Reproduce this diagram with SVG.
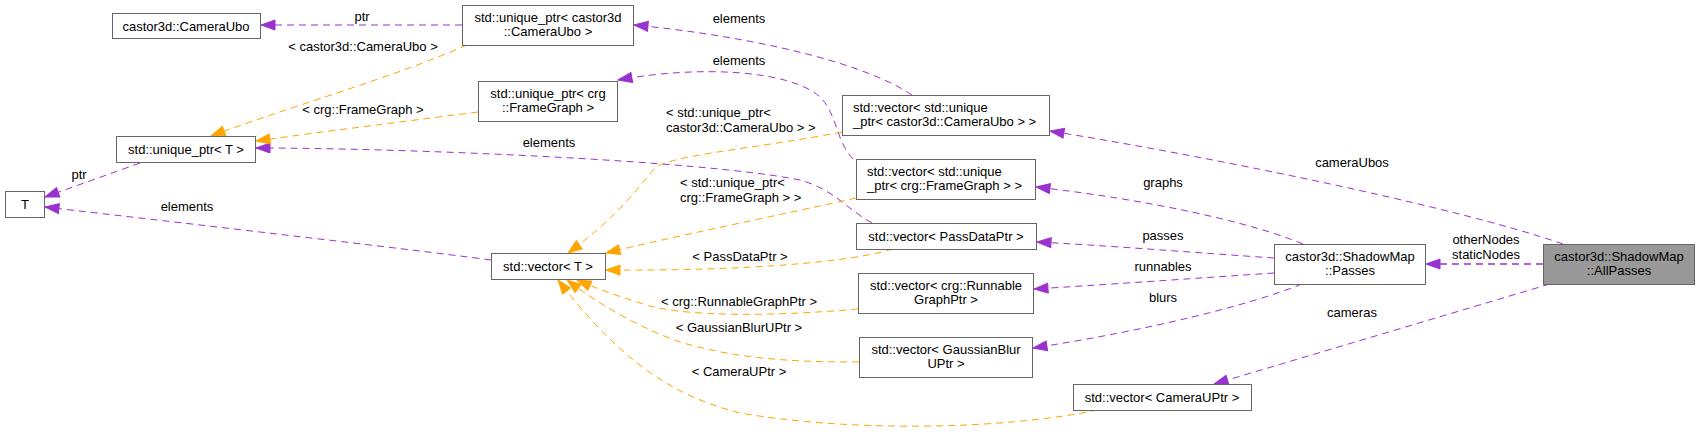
<svg xmlns="http://www.w3.org/2000/svg" width="1700" height="433" viewBox="0 0 1700 433">
<style>
text{font-family:"Liberation Sans",Arial,sans-serif;font-size:13px;fill:#000}
.c{text-anchor:middle}
.n rect{fill:#fff;stroke:#666;stroke-width:1}
.n.g rect{fill:#999}
.e path{fill:none;stroke-width:1;stroke-dasharray:7,5}
.p{stroke:#9a32cd;marker-end:url(#ap)}
.o{stroke:#ffa500;marker-end:url(#ao)}
</style>
<defs>
<marker id="ap" markerUnits="userSpaceOnUse" markerWidth="16" markerHeight="12" viewBox="0 0 16 12" refX="15" refY="6" orient="auto"><path d="M1,1 L15,6 L1,11 Z" fill="#9a32cd" stroke="#9a32cd" stroke-dasharray="none"/></marker>
<marker id="ao" markerUnits="userSpaceOnUse" markerWidth="16" markerHeight="12" viewBox="0 0 16 12" refX="15" refY="6" orient="auto"><path d="M1,1 L15,6 L1,11 Z" fill="#ffa500" stroke="#ffa500" stroke-dasharray="none"/></marker>
</defs>
<rect width="1700" height="433" fill="#fff"/>
<g id="edges" class="e">
<path class="p" d="M1543,264 L1426,264" style="stroke-width:1.5"/>
<path class="p" d="M1563,244 C1450,205 1200,155 1050,131"/>
<path class="p" d="M1550,284 L1214,384"/>
<path class="p" d="M1303,244 C1250,222 1150,200 1036,187"/>
<path class="p" d="M1274,258 C1200,253 1100,245 1037,242"/>
<path class="p" d="M1274,273 C1200,278 1100,285 1034,289"/>
<path class="p" d="M1302,284 C1250,305 1150,330 1033,348"/>
<path class="p" d="M912,95 C860,60 740,35 634,25"/>
<path class="p" d="M853,159 C835,140 838,115 820,97 C790,70 700,65 618,80"/>
<path class="p" d="M872,223 C845,208 835,190 800,180 C700,160 400,148 256,148"/>
<path class="p" d="M491,260 C400,248 200,225 45,207"/>
<path class="p" d="M140,163 L45,197"/>
<path class="p" d="M462,25 L261,25"/>
<path class="o" d="M467,45 C400,75 280,110 211,136"/>
<path class="o" d="M478,112 C400,122 320,132 256,141"/>
<path class="o" d="M842,132 C760,148 670,155 655,168 C640,185 620,215 568,253"/>
<path class="o" d="M856,198 C780,215 680,235 606,253"/>
<path class="o" d="M893,249 C850,262 750,271 606,270"/>
<path class="o" d="M858,309 C780,316 680,318 640,303 C615,295 595,288 577,280"/>
<path class="o" d="M859,362 C800,362 740,360 680,342 C640,328 600,305 567,280"/>
<path class="o" d="M1098,410 C1000,430 850,432 740,413 C670,395 620,360 558,280"/>
<text class="c" x="362" y="21">ptr</text>
<text class="c" x="363" y="51">&lt; castor3d::CameraUbo &gt;</text>
<text class="c" x="363" y="114">&lt; crg::FrameGraph &gt;</text>
<text class="c" x="79" y="179">ptr</text>
<text class="c" x="187" y="211">elements</text>
<text class="c" x="739" y="23">elements</text>
<text class="c" x="739" y="65">elements</text>
<text class="c" x="549" y="147">elements</text>
<text x="666" y="117">&lt; std::unique_ptr&lt;</text>
<text x="666" y="132">castor3d::CameraUbo &gt; &gt;</text>
<text x="680" y="187">&lt; std::unique_ptr&lt;</text>
<text x="680" y="202">crg::FrameGraph &gt; &gt;</text>
<text class="c" x="740" y="261">&lt; PassDataPtr &gt;</text>
<text class="c" x="739" y="306">&lt; crg::RunnableGraphPtr &gt;</text>
<text class="c" x="739" y="332">&lt; GaussianBlurUPtr &gt;</text>
<text class="c" x="739" y="376">&lt; CameraUPtr &gt;</text>
<text class="c" x="1352" y="167">cameraUbos</text>
<text class="c" x="1486" y="244">otherNodes</text>
<text class="c" x="1486" y="259">staticNodes</text>
<text class="c" x="1352" y="317">cameras</text>
<text class="c" x="1163" y="187">graphs</text>
<text class="c" x="1163" y="240">passes</text>
<text class="c" x="1163" y="271">runnables</text>
<text class="c" x="1163" y="302">blurs</text>
</g>
<g id="n_allpasses" class="n g"><rect x="1543.5" y="244.5" width="151" height="40"/><text class="c" x="1619" y="260.5">castor3d::ShadowMap</text><text class="c" x="1619" y="275">::AllPasses</text></g>
<g id="n_passes" class="n"><rect x="1274.5" y="244.5" width="151" height="40"/><text class="c" x="1350" y="260.5">castor3d::ShadowMap</text><text class="c" x="1350" y="275">::Passes</text></g>
<g id="n_vec_cameraubo" class="n"><rect x="842.5" y="95.5" width="207" height="40"/><text x="853" y="111.5">std::vector&lt; std::unique</text><text x="853" y="126">_ptr&lt; castor3d::CameraUbo &gt; &gt;</text></g>
<g id="n_vec_framegraph" class="n"><rect x="856.5" y="159.5" width="179" height="40"/><text x="867" y="175.5">std::vector&lt; std::unique</text><text x="867" y="190">_ptr&lt; crg::FrameGraph &gt; &gt;</text></g>
<g id="n_vec_passdata" class="n"><rect x="856.5" y="223.5" width="180" height="26"/><text class="c" x="946" y="240.5">std::vector&lt; PassDataPtr &gt;</text></g>
<g id="n_vec_runnable" class="n"><rect x="858.5" y="273.5" width="175" height="40"/><text class="c" x="946" y="289.5">std::vector&lt; crg::Runnable</text><text class="c" x="946" y="304">GraphPtr &gt;</text></g>
<g id="n_vec_blur" class="n"><rect x="859.5" y="337.5" width="173" height="40"/><text class="c" x="946" y="353.5">std::vector&lt; GaussianBlur</text><text class="c" x="946" y="368">UPtr &gt;</text></g>
<g id="n_vec_camera" class="n"><rect x="1073.5" y="384.5" width="178" height="26"/><text class="c" x="1162" y="401.5">std::vector&lt; CameraUPtr &gt;</text></g>
<g id="n_vec_t" class="n"><rect x="491.5" y="253.5" width="114" height="26"/><text class="c" x="548" y="270.5">std::vector&lt; T &gt;</text></g>
<g id="n_uptr_cameraubo" class="n"><rect x="462.5" y="5.5" width="171" height="40"/><text class="c" x="548" y="21.5">std::unique_ptr&lt; castor3d</text><text class="c" x="548" y="36">::CameraUbo &gt;</text></g>
<g id="n_uptr_framegraph" class="n"><rect x="478.5" y="81.5" width="139" height="40"/><text class="c" x="548" y="97.5">std::unique_ptr&lt; crg</text><text class="c" x="548" y="112">::FrameGraph &gt;</text></g>
<g id="n_cameraubo" class="n"><rect x="112.5" y="13.5" width="148" height="25"/><text class="c" x="186" y="30.5">castor3d::CameraUbo</text></g>
<g id="n_uptr_t" class="n"><rect x="116.5" y="136.5" width="139" height="26"/><text class="c" x="186" y="153.5">std::unique_ptr&lt; T &gt;</text></g>
<g id="n_t" class="n"><rect x="5.5" y="191.5" width="39" height="26"/><text class="c" x="25" y="208.5">T</text></g>
</svg>
